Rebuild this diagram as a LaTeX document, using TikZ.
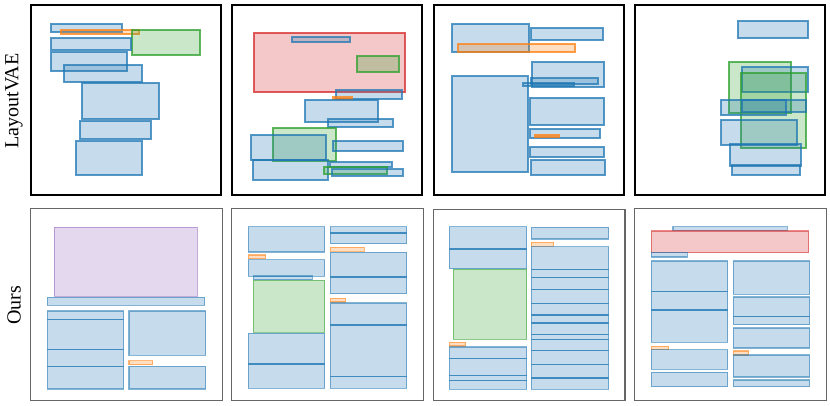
\documentclass[tikz,border=0pt]{standalone}
\usepackage{fontspec}
\setmainfont{Liberation Serif}
\definecolor{tb}{HTML}{1F77B4}
\definecolor{to}{HTML}{FF7F0E}
\definecolor{tg}{HTML}{2CA02C}
\definecolor{tr}{HTML}{D62728}
\definecolor{tp}{HTML}{9467BD}
\newcommand\lbox[5]{\draw[#1] (#2,#3) rectangle (#4,#5);}
\begin{document}
\begin{tikzpicture}[x=1pt,y=-1pt,
  top/.style={line width=1.7pt, draw opacity=0.75, fill opacity=0.25},
  bot/.style={line width=1.2pt, draw opacity=0.55, fill opacity=0.25},
  B/.style={top, draw=tb, fill=tb},
  O/.style={top, draw=to, fill=to},
  G/.style={top, draw=tg, fill=tg},
  R/.style={top, draw=tr, fill=tr},
  b/.style={bot, draw=tb, fill=tb},
  o/.style={bot, draw=to, fill=to},
  g/.style={bot, draw=tg, fill=tg},
  r/.style={bot, draw=tr, fill=tr},
  p/.style={bot, draw=tp, fill=tp},
  tframe/.style={draw=black, line width=1.8pt},
  bframe/.style={draw=black!60, line width=1.2pt},
  lab/.style={rotate=90, font=\fontsize{20}{22}\selectfont}]
\useasboundingbox (0,0) rectangle (830,406);
\fill[white] (0,0) rectangle (830,406);
\node[lab] (l1) at (14,101) {LayoutVAE};
\node[lab] (l2) at (14,305) {Ours};
% ---------- top row frames
\draw[tframe] (31.3,5.3) rectangle (221.3,194.7);
\draw[tframe] (232.3,5.3) rectangle (422.3,194.7);
\draw[tframe] (434,5.3) rectangle (624,194.7);
\draw[tframe] (635.3,5.3) rectangle (825.3,194.7);
% panel 1
\lbox{B}{51.3}{23.7}{122}{32}
\lbox{O}{61.3}{30.3}{139}{34.3}
\lbox{G}{132.3}{30.3}{200.3}{55.3}
\lbox{B}{51.3}{37.7}{130.7}{49.7}
\lbox{B}{51.3}{52.3}{127.3}{71}
\lbox{B}{63.7}{64.7}{142}{82}
\lbox{B}{82}{83}{158.7}{119.3}
\lbox{B}{79.7}{121}{151.3}{139.3}
\lbox{B}{76.3}{141}{142.3}{174.7}
% panel 2
\lbox{R}{254}{33}{404.7}{92}
\lbox{B}{292.3}{37.3}{349.7}{42.3}
\lbox{G}{356.7}{56.3}{399}{72.3}
\lbox{B}{336.3}{90.3}{401.7}{98.7}
\lbox{O}{333}{97.3}{352.3}{99.3}
\lbox{B}{305}{99.7}{378.3}{122.3}
\lbox{B}{328.3}{118.7}{393.3}{127}
\lbox{G}{272.7}{127.7}{335.7}{160.7}
\lbox{B}{251.3}{135}{326.3}{160}
\lbox{B}{333.3}{141.3}{403.3}{151.3}
\lbox{B}{252.7}{160}{328.3}{180.3}
\lbox{B}{330.3}{162.3}{391.7}{166.7}
\lbox{G}{324}{167}{387.3}{174}
\lbox{B}{332.3}{168.7}{403}{176}
% panel 3
\lbox{B}{452.3}{24.3}{528.7}{52.3}
\lbox{B}{531}{28}{602.7}{39.7}
\lbox{O}{457.7}{44}{575}{52.3}
\lbox{B}{532}{62.3}{603.7}{86.7}
\lbox{B}{530.7}{77.7}{597.7}{84.3}
\lbox{B}{522.7}{82.7}{574}{86.3}
\lbox{B}{452.3}{76.3}{528}{172}
\lbox{B}{530.3}{98.3}{603.7}{125}
\lbox{B}{530.3}{129}{600.3}{138.3}
\lbox{O}{535}{134.7}{559.3}{137.3}
\lbox{B}{530.3}{146.7}{603.7}{157.3}
\lbox{B}{531}{160}{605}{174.7}
% panel 4
\lbox{B}{738.3}{21}{808.3}{38.3}
\lbox{G}{729}{61.7}{791}{113}
\lbox{B}{742.3}{66.7}{808}{92.3}
\lbox{G}{740.7}{72.7}{806.3}{147.7}
\lbox{B}{721.3}{100.3}{786.3}{115.3}
\lbox{B}{742.3}{100}{805.7}{111.7}
\lbox{B}{721.3}{120.3}{796.7}{145.3}
\lbox{B}{729.7}{144.3}{801.3}{165.7}
\lbox{B}{732.3}{164.7}{800.3}{174.7}
% ---------- bottom row frames
\draw[bframe] (30.7,208.7) rectangle (222.3,400.3);
\draw[bframe] (231.7,208.7) rectangle (423.3,400.3);
\draw[bframe] (433.3,209.3) rectangle (625,400.7);
\draw[bframe] (634.7,208.7) rectangle (826.3,400.3);
% panel 5
\lbox{p}{54.3}{227.3}{197.3}{296.3}
\lbox{b}{47.3}{297.3}{204.7}{305.3}
\lbox{b}{47.3}{311}{123.7}{319.7}
\lbox{b}{47.3}{319.7}{123.7}{349.7}
\lbox{b}{47.3}{349.7}{123.7}{366.3}
\lbox{b}{47.3}{366.3}{123.7}{389}
\lbox{b}{129}{311}{205.7}{355.3}
\lbox{o}{129}{360.7}{152.7}{364.7}
\lbox{b}{129}{366.3}{205.7}{389}
% panel 6
\lbox{b}{248.3}{226.7}{324.7}{252}
\lbox{o}{248.3}{255}{265.7}{258.7}
\lbox{b}{248.3}{259.7}{324.7}{276.3}
\lbox{b}{253.3}{276}{312.3}{279.7}
\lbox{g}{253.3}{280.3}{324.7}{332.3}
\lbox{b}{248.3}{333.3}{324.7}{364}
\lbox{b}{248.3}{364}{324.7}{388.3}
\lbox{b}{330.3}{226.7}{406.7}{233}
\lbox{b}{330.3}{233}{406.7}{243.7}
\lbox{o}{330.3}{247.3}{364.3}{251.3}
\lbox{b}{330.3}{252.3}{406.7}{277}
\lbox{b}{330.3}{277}{406.7}{293.7}
\lbox{o}{330.3}{298.3}{345.7}{302}
\lbox{b}{330.3}{303}{406.7}{325}
\lbox{b}{330.3}{325}{406.7}{376.7}
\lbox{b}{330.3}{376.7}{406.7}{388.3}
% panel 7
\lbox{b}{449.3}{226.7}{526.7}{249}
\lbox{b}{449.3}{249}{526.7}{268.7}
\lbox{g}{453.3}{269.3}{526.7}{339.3}
\lbox{o}{449.3}{342.3}{465.7}{346}
\lbox{b}{449.3}{347}{526.7}{358.7}
\lbox{b}{449.3}{358.7}{526.7}{375.7}
\lbox{b}{449.3}{375.7}{526.7}{380.7}
\lbox{b}{449.3}{380.7}{526.7}{389.3}
\lbox{b}{531.3}{227.3}{608.7}{239}
\lbox{o}{531.3}{242.3}{553.7}{246.3}
\lbox{b}{531.3}{246.7}{608.7}{269.3}
\lbox{b}{531.3}{269.3}{608.7}{277.3}
\lbox{b}{531.3}{277.3}{608.7}{289.3}
\lbox{b}{531.3}{289.3}{608.7}{303.7}
\lbox{b}{531.3}{303.7}{608.7}{315}
\lbox{b}{531.3}{315}{608.7}{323}
\lbox{b}{531.3}{323}{608.7}{334.3}
\lbox{b}{531.3}{334.3}{608.7}{339.7}
\lbox{b}{531.3}{339.7}{608.7}{350.7}
\lbox{b}{531.3}{350.7}{608.7}{364.7}
\lbox{b}{531.3}{364.7}{608.7}{378}
\lbox{b}{531.3}{378}{608.7}{389.3}
% panel 8
\lbox{b}{673}{226.7}{787.3}{230.7}
\lbox{r}{651.3}{231}{808.7}{252.7}
\lbox{b}{651.3}{252.3}{687.3}{257}
\lbox{b}{651.3}{261}{727.7}{291.3}
\lbox{b}{651.3}{291.3}{727.7}{310}
\lbox{b}{651.3}{310}{727.7}{342.3}
\lbox{o}{651.3}{346.3}{668.7}{349.7}
\lbox{b}{651.3}{349.7}{727.7}{369.3}
\lbox{b}{651.3}{372.3}{727.7}{386.7}
\lbox{b}{733.3}{261}{809.7}{294.3}
\lbox{b}{733.3}{297}{809.7}{316.3}
\lbox{b}{733.3}{316.3}{809.7}{324.7}
\lbox{b}{733.3}{328}{809.7}{348}
\lbox{o}{733.3}{351}{748.7}{355}
\lbox{b}{733.3}{355}{809.7}{377}
\lbox{b}{733.3}{380}{809.7}{386.7}
\end{tikzpicture}
\end{document}
